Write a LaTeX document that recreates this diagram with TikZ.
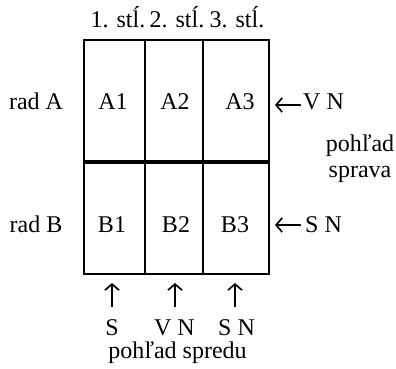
\documentclass[tikz,border=0pt]{standalone}
\usepackage{fontspec}
\setmainfont{Liberation Serif}
\usetikzlibrary{arrows.meta}
\begin{document}
\begin{tikzpicture}[x=1pt,y=-1pt,
  every node/.style={font=\fontsize{24}{28}\selectfont, inner sep=0pt},
  cell/.style={draw, line width=2pt, inner sep=0pt},
  txt/.style={anchor=base},
  arr/.style={line width=1.7pt, -{Straight Barb[length=6pt,width=14pt,line width=1.7pt]}}]
\useasboundingbox (0,0) rectangle (396,369);
% cells
\node[cell, minimum width=61pt, minimum height=121pt] (cA1) at (114.5,100.5) {};
\node[cell, minimum width=58pt, minimum height=121pt] (cA2) at (174,100.5) {};
\node[cell, minimum width=66pt, minimum height=121pt] (cA3) at (236,100.5) {};
\node[cell, minimum width=61pt, minimum height=113pt] (cB1) at (114.5,217.5) {};
\node[cell, minimum width=58pt, minimum height=113pt] (cB2) at (174,217.5) {};
\node[cell, minimum width=66pt, minimum height=113pt] (cB3) at (236,217.5) {};
\draw[line width=4pt] (cA1.south west) -- (cA3.south east);
% cell texts
\node[txt] (tA1) at (113,109) {A1};
\node[txt] (tA2) at (175,109) {A2};
\node[txt] (tA3) at (240,109) {A3};
\node[txt] (tB1) at (112,232) {B1};
\node[txt] (tB2) at (176,232) {B2};
\node[txt] (tB3) at (235,232) {B3};
% headers
\node[txt] (h1) at (118,28) {1. stĺ.};
\node[txt] (h2) at (177,28) {2. stĺ.};
\node[txt] (h3) at (237,28) {3. stĺ.};
% rows
\node[txt] (rA) at (36,109) {rad A};
\node[txt] (rB) at (36,232) {rad B};
% right side
\coordinate (aAt) at (301,105);
\coordinate (aAh) at (275,105);
\coordinate (aBt) at (301,225);
\coordinate (aBh) at (275,225);
\draw[arr] (aAt) -- (aAh);
\draw[arr] (aBt) -- (aBh);
\node[txt, anchor=base west] (vnA) at (303,109) {V N};
\node[txt, anchor=base west] (snB) at (305,232) {S N};
\node[txt] (ps1) at (360,151) {pohľad};
\node[txt] (ps2) at (360,177) {sprava};
% bottom
\coordinate (b1t) at (112,307); \coordinate (b1h) at (112,283);
\coordinate (b2t) at (175,307); \coordinate (b2h) at (175,283);
\coordinate (b3t) at (235,307); \coordinate (b3h) at (235,283);
\draw[arr] (b1t) -- (b1h);
\draw[arr] (b2t) -- (b2h);
\draw[arr] (b3t) -- (b3h);
\node[txt] (l1) at (112,335) {S};
\node[txt] (l2) at (174.5,335) {V N};
\node[txt] (l3) at (236.5,335) {S N};
\node[txt] (pf) at (177.5,358) {pohľad spredu};
\end{tikzpicture}
\end{document}
